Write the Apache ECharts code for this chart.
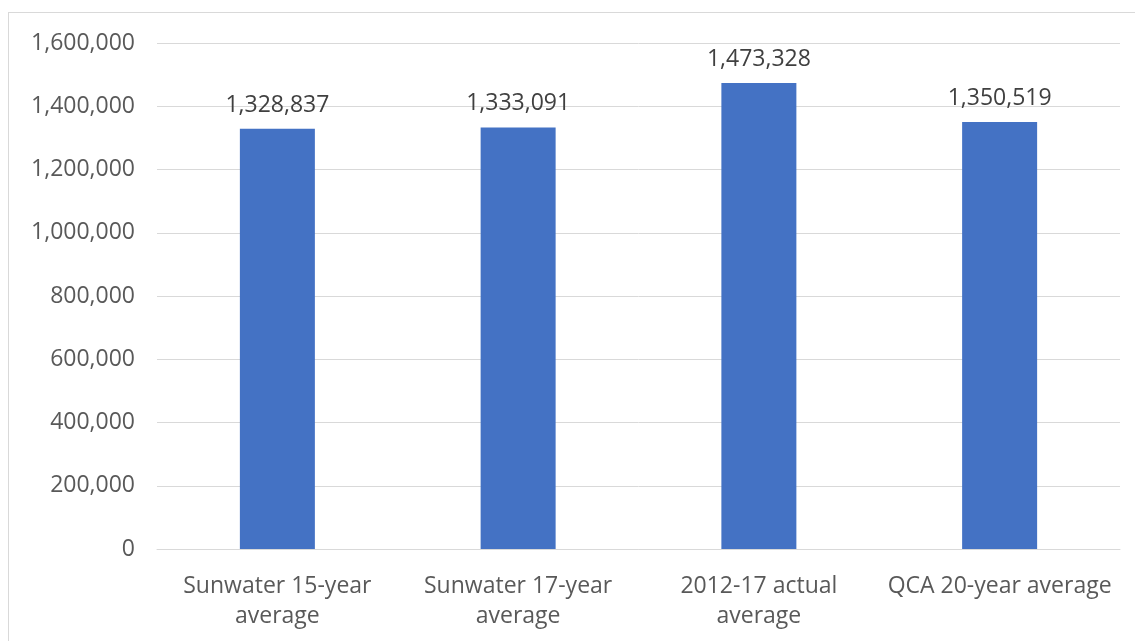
<!DOCTYPE html>
<html><head><meta charset="utf-8">
<script src="https://cdn.jsdelivr.net/npm/echarts@6/dist/echarts.min.js"></script>
<style>html,body{margin:0;padding:0;background:#fff}#frame{position:absolute;left:8px;top:12px;width:1140px;height:640px;border:1px solid #d9d9d9;box-sizing:border-box}#c{width:1135px;height:641px;position:absolute;left:0;top:0}</style>
</head><body><div id="frame"></div><div id="c"></div>
<script>
const categories = ['Sunwater 15-year\naverage', 'Sunwater 17-year\naverage', '2012-17 actual\naverage', 'QCA 20-year average'];
const values = [1328837, 1333091, 1473328, 1350519];
const yTicks = { min: 0, max: 1600000, interval: 200000 };
const fmt = v => v.toLocaleString('en-US');
const chart = echarts.init(document.getElementById('c'), null, {renderer:'canvas'});
chart.setOption({
  animation: false,
  grid: { left: 157, right: 15, top: 43, bottom: 92 },
  xAxis: {
    type: 'category', data: categories,
    axisLine: { lineStyle: { color: '#d9d9d9' } },
    axisTick: { show: false },
    axisLabel: { color: '#595959', fontSize: 23, fontFamily: 'Open Sans', lineHeight: 30, margin: 22, interval: 0 }
  },
  yAxis: {
    type: 'value', min: yTicks.min, max: yTicks.max, interval: yTicks.interval,
    axisLine: { show: false }, axisTick: { show: false },
    splitLine: { lineStyle: { color: '#d9d9d9' } },
    axisLabel: { color: '#595959', fontSize: 23, fontFamily: 'Open Sans', margin: 22, formatter: fmt }
  },
  series: [{
    type: 'bar', data: values, barWidth: 75,
    itemStyle: { color: '#4472c4' },
    label: { show: true, position: 'top', distance: 12, color: '#404040', fontSize: 23, fontFamily: 'Open Sans', formatter: p => fmt(p.value) }
  }]
});
</script></body></html>
